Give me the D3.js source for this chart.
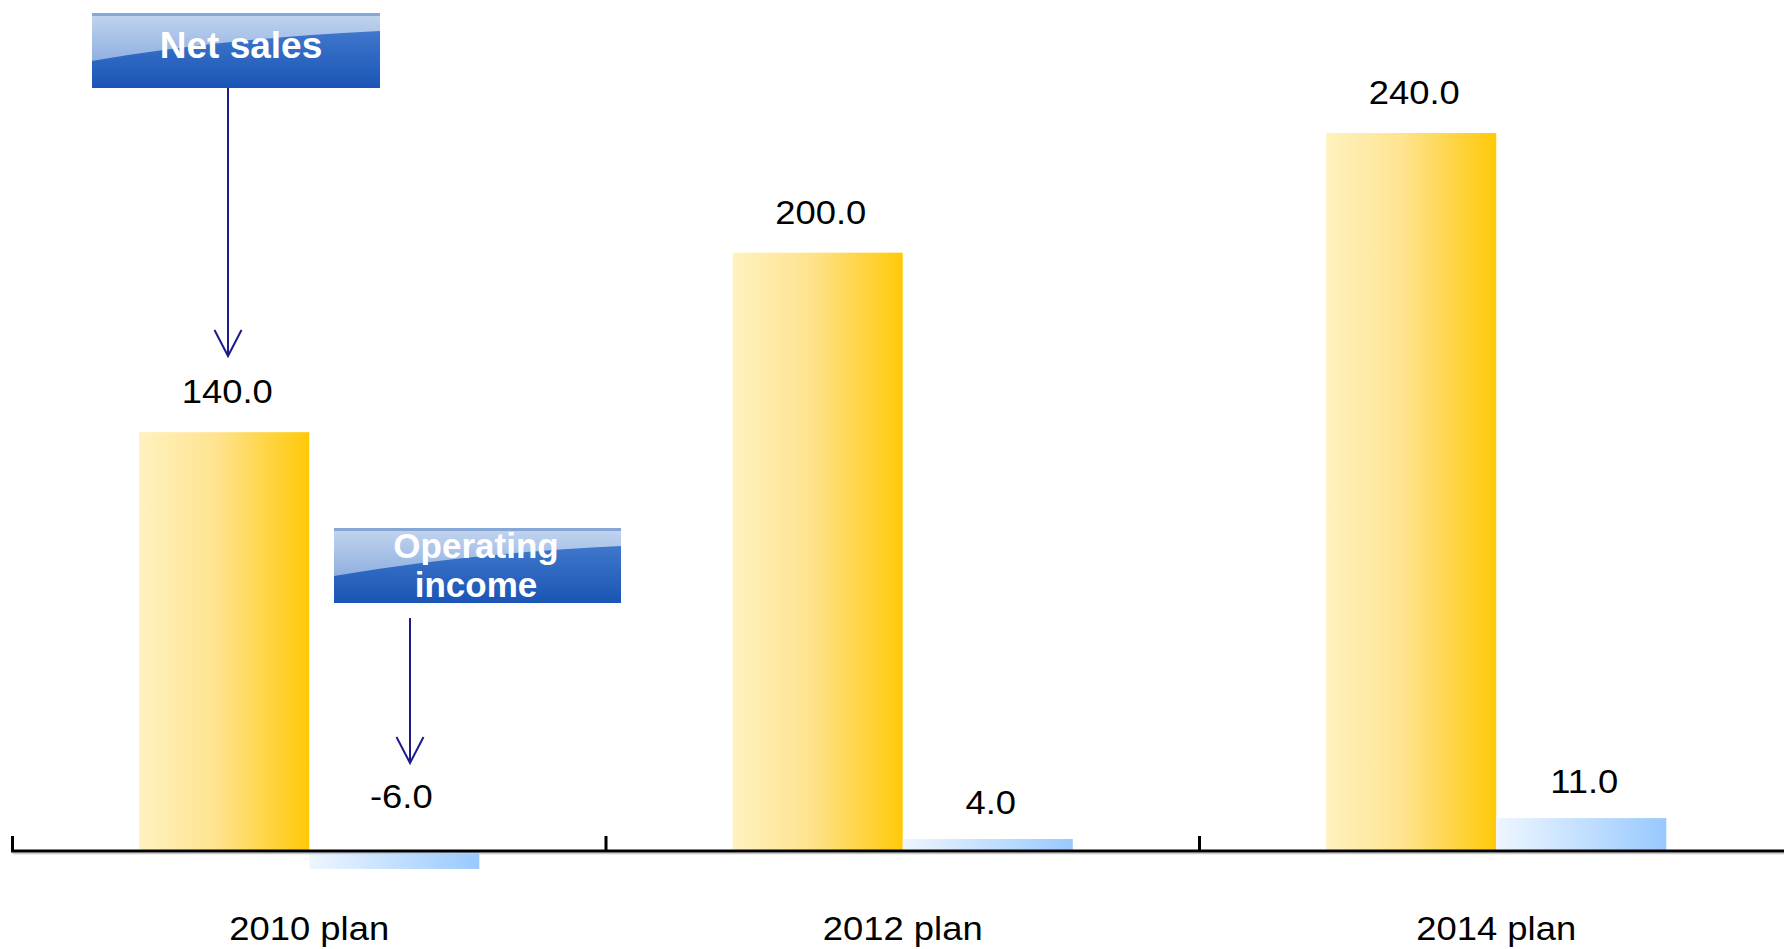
<!DOCTYPE html>
<html>
<head>
<meta charset="utf-8">
<script src="https://cdn.jsdelivr.net/npm/d3@7/dist/d3.min.js"></script>
<style>
html,body{margin:0;padding:0;background:#fff;}
svg{display:block;}
text{font-family:"Liberation Sans",Arial,Helvetica,sans-serif;}
</style>
</head>
<body>
<svg id="chart" width="1784" height="949"></svg>
<script>
// ---- data ----
const categories = ["2010 plan", "2012 plan", "2014 plan"];
const seriesNames = ["Net sales", "Operating income"];
const netSales = [140.0, 200.0, 240.0];
const operatingIncome = [-6.0, 4.0, 11.0];
const seriesValues = [netSales, operatingIncome];

const W = 1784, H = 949;
const svg = d3.select("#chart");
const defs = svg.append("defs");

// gradients
const gNet = defs.append("linearGradient").attr("id","gNet").attr("x1","0").attr("x2","1").attr("y1","0").attr("y2","0");
gNet.append("stop").attr("offset","0").attr("stop-color","#fff2bf");
gNet.append("stop").attr("offset","0.45").attr("stop-color","#fee390");
gNet.append("stop").attr("offset","1").attr("stop-color","#ffc907");
const gOI = defs.append("linearGradient").attr("id","gOI").attr("x1","0").attr("x2","1").attr("y1","0").attr("y2","0");
gOI.append("stop").attr("offset","0").attr("stop-color","#eef6ff");
gOI.append("stop").attr("offset","1").attr("stop-color","#98c9ff");
const gBox = defs.append("linearGradient").attr("id","gBox").attr("x1","0").attr("x2","0").attr("y1","0").attr("y2","1");
gBox.append("stop").attr("offset","0").attr("stop-color","#4a82d2");
gBox.append("stop").attr("offset","1").attr("stop-color","#1a55b5");
const gGloss = defs.append("linearGradient").attr("id","gGloss").attr("x1","0").attr("x2","0").attr("y1","0").attr("y2","1");
gGloss.append("stop").attr("offset","0").attr("stop-color","#c3d5ef");
gGloss.append("stop").attr("offset","1").attr("stop-color","#8fb0e0");
const fills = ["url(#gNet)", "url(#gOI)"];

// ---- scales ----
const axisY = 851;
const x0 = d3.scaleBand().domain(categories).range([12.5, 12.5 + 3*593.5]).padding(0);
const x1 = d3.scaleBand().domain(seriesNames).range([0, x0.bandwidth()]).paddingInner(0).paddingOuter(0.745);
const y = d3.scaleLinear().domain([0, 240]).range([axisY, 133]);
const fmt = v => v.toFixed(1);
const stretch = 1.07;

// ---- bars ----
const rows = [];
categories.forEach((c,i)=>seriesNames.forEach((s,j)=>rows.push({c, s, j, v: seriesValues[j][i]})));

svg.append("g").selectAll("rect").data(rows).join("rect")
  .attr("x", d => x0(d.c) + x1(d.s))
  .attr("width", x1.bandwidth())
  .attr("y", d => y(Math.max(0, d.v)))
  .attr("height", d => Math.abs(y(d.v) - y(0)))
  .attr("fill", d => fills[d.j]);

// value labels
svg.append("g").selectAll("text").data(rows).join("text")
  .attr("transform", d => `translate(${x0(d.c) + x1(d.s) + x1.bandwidth()/2 + (d.v < 0 ? 7 : 3)},${y(Math.max(0, d.v)) - (d.v < 0 ? 43 : (d.j === 0 ? 29 : 25))}) scale(${stretch},1)`)
  .attr("text-anchor","middle")
  .attr("font-size", 34)
  .attr("fill","#000")
  .text(d => fmt(d.v));

// ---- axis ----
const ax = svg.append("g");
ax.append("line").attr("x1", x0.range()[0]).attr("x2", W).attr("y1", axisY+2.5).attr("y2", axisY+2.5)
  .attr("stroke","#c8c8c8").attr("stroke-width",1.5);
ax.append("line").attr("x1", x0.range()[0]-1.5).attr("x2", W).attr("y1", axisY).attr("y2", axisY)
  .attr("stroke","#000").attr("stroke-width",3);
ax.selectAll("line.tick").data(categories).join("line").attr("class","tick")
  .attr("x1", d => x0(d)).attr("x2", d => x0(d))
  .attr("y1", axisY).attr("y2", axisY - 15)
  .attr("stroke","#000").attr("stroke-width",3);
ax.selectAll("text.cat").data(categories).join("text").attr("class","cat")
  .attr("transform", d => `translate(${x0(d) + x0.bandwidth()/2},940) scale(${stretch},1)`)
  .attr("text-anchor","middle")
  .attr("font-size", 34)
  .attr("fill","#000")
  .text(d => d);

// ---- callouts ----
function callout(bx, by, bw, bh, lines, fs, tx, baselines, arrowX, arrowY1, arrowY2) {
  const g = svg.append("g");
  g.append("rect").attr("x",bx).attr("y",by).attr("width",bw).attr("height",bh).attr("fill","url(#gBox)");
  g.append("path")
    .attr("d", `M${bx},${by} L${bx+bw},${by} L${bx+bw},${by+bh*0.24} Q${bx+bw*0.45},${by+bh*0.34} ${bx},${by+bh*0.64} Z`)
    .attr("fill","url(#gGloss)");
  g.append("rect").attr("x",bx).attr("y",by).attr("width",bw).attr("height",3).attr("fill","#86a6d6");
  lines.forEach((t,k)=>{
    g.append("text").attr("x", tx).attr("y", baselines[k])
      .attr("text-anchor","middle").attr("font-size",fs).attr("font-weight","bold")
      .attr("fill","#fff").text(t);
  });
  g.append("line").attr("x1",arrowX).attr("x2",arrowX).attr("y1",arrowY1).attr("y2",arrowY2)
    .attr("stroke","#1c1c8a").attr("stroke-width",2);
  g.append("path").attr("d",`M${arrowX-13.5},${arrowY2-26} L${arrowX},${arrowY2} L${arrowX+13.5},${arrowY2-26}`)
    .attr("fill","none").attr("stroke","#1c1c8a").attr("stroke-width",2);
}
callout(92, 13, 288, 75, ["Net sales"], 37, 241, [58], 228, 88, 356);
callout(334, 528, 287, 75, ["Operating", "income"], 35, 476, [558, 597], 410, 618, 763);
</script>
</body>
</html>
